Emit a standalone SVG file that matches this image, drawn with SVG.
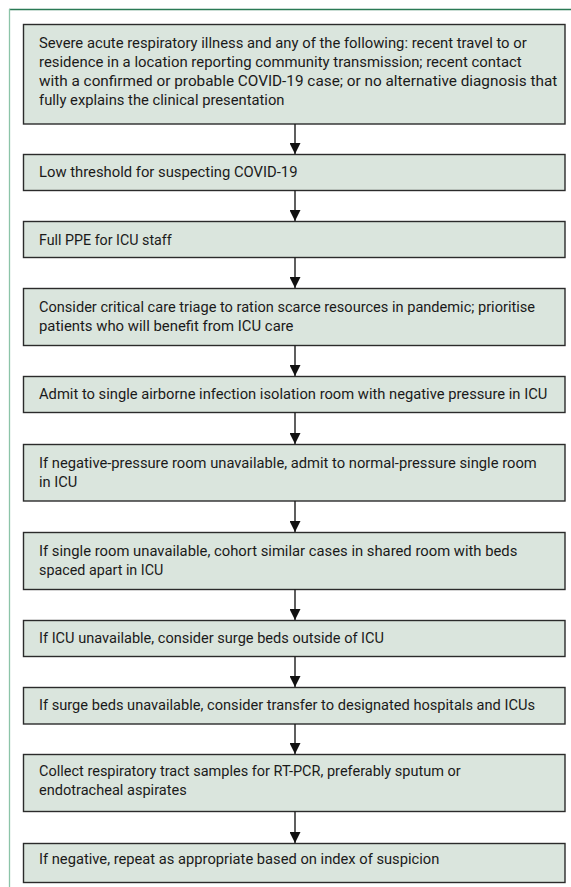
<svg xmlns="http://www.w3.org/2000/svg" width="571" height="887" viewBox="0 0 571 887">
<defs>
<style>
.box rect{fill:#dae5dd;stroke:#2b2b2b;stroke-width:1.4}
.box text{font-family:Roboto,Lato,"Liberation Sans",sans-serif;font-size:15px;fill:#1a1a1a}
.conn line{stroke:#1a1a1a;stroke-width:1.4}
</style>
<marker id="ah" viewBox="0 0 11 11" refX="11" refY="5.5" markerWidth="11" markerHeight="11" markerUnits="userSpaceOnUse" orient="auto">
<path d="M0,0 L11,5.5 L0,11 Z" fill="#111"/>
</marker>
</defs>
<rect x="0" y="0" width="571" height="887" fill="#ffffff"/>
<line x1="9" y1="9.5" x2="571" y2="9.5" stroke="#2a7a55" stroke-width="1.3"/>
<line x1="9.5" y1="9" x2="9.5" y2="887" stroke="#8cc4a8" stroke-width="1.3"/>

<g id="n1" class="box"><rect x="23.5" y="24.5" width="541.5" height="99.5"/>
<text x="39" y="48" textLength="487.7" lengthAdjust="spacingAndGlyphs">Severe acute respiratory illness and any of the following: recent travel to or</text>
<text x="39" y="67" textLength="482.7" lengthAdjust="spacingAndGlyphs">residence in a location reporting community transmission; recent contact</text>
<text x="39" y="86" textLength="518.3" lengthAdjust="spacingAndGlyphs">with a confirmed or probable COVID-19 case; or no alternative diagnosis that</text>
<text x="39" y="105" textLength="245.5" lengthAdjust="spacingAndGlyphs">fully explains the clinical presentation</text></g>

<g id="n2" class="box"><rect x="23.5" y="154.5" width="541.5" height="36"/>
<text x="39" y="176.5" textLength="258.5" lengthAdjust="spacingAndGlyphs">Low threshold for suspecting COVID-19</text></g>

<g id="n3" class="box"><rect x="23.5" y="221.5" width="541.5" height="36"/>
<text x="39" y="245" textLength="132.7" lengthAdjust="spacingAndGlyphs">Full PPE for ICU staff</text></g>

<g id="n4" class="box"><rect x="23.5" y="288.5" width="541.5" height="57"/>
<text x="39" y="311.5" textLength="496" lengthAdjust="spacingAndGlyphs">Consider critical care triage to ration scarce resources in pandemic; prioritise</text>
<text x="39" y="330.5" textLength="254.5" lengthAdjust="spacingAndGlyphs">patients who will benefit from ICU care</text></g>

<g id="n5" class="box"><rect x="23.5" y="376.5" width="541.5" height="36"/>
<text x="39" y="398.5" textLength="508.3" lengthAdjust="spacingAndGlyphs">Admit to single airborne infection isolation room with negative pressure in ICU</text></g>

<g id="n6" class="box"><rect x="23.5" y="444.5" width="541.5" height="56.5"/>
<text x="39" y="467.5" textLength="497.7" lengthAdjust="spacingAndGlyphs">If negative-pressure room unavailable, admit to normal-pressure single room</text>
<text x="39" y="486.5" textLength="38.3" lengthAdjust="spacingAndGlyphs">in ICU</text></g>

<g id="n7" class="box"><rect x="23.5" y="532.5" width="541.5" height="57"/>
<text x="39" y="555.5" textLength="478.3" lengthAdjust="spacingAndGlyphs">If single room unavailable, cohort similar cases in shared room with beds</text>
<text x="39" y="574.5" textLength="124.3" lengthAdjust="spacingAndGlyphs">spaced apart in ICU</text></g>

<g id="n8" class="box"><rect x="23.5" y="620.5" width="541.5" height="36"/>
<text x="39" y="643" textLength="345" lengthAdjust="spacingAndGlyphs">If ICU unavailable, consider surge beds outside of ICU</text></g>

<g id="n9" class="box"><rect x="23.5" y="687.5" width="541.5" height="36.5"/>
<text x="39" y="710" textLength="496" lengthAdjust="spacingAndGlyphs">If surge beds unavailable, consider transfer to designated hospitals and ICUs</text></g>

<g id="n10" class="box"><rect x="23.5" y="754.5" width="541.5" height="57"/>
<text x="39" y="775.5" textLength="421.7" lengthAdjust="spacingAndGlyphs">Collect respiratory tract samples for RT-PCR, preferably sputum or</text>
<text x="39" y="794.5" textLength="147.7" lengthAdjust="spacingAndGlyphs">endotracheal aspirates</text></g>

<g id="n11" class="box"><rect x="23.5" y="843.5" width="541.5" height="39"/>
<text x="39" y="863.5" textLength="400.3" lengthAdjust="spacingAndGlyphs">If negative, repeat as appropriate based on index of suspicion</text></g>

<g id="connectors" class="conn">
<line x1="295" y1="124" x2="295" y2="154" marker-end="url(#ah)"/>
<line x1="295" y1="190.5" x2="295" y2="221" marker-end="url(#ah)"/>
<line x1="295" y1="257.5" x2="295" y2="288" marker-end="url(#ah)"/>
<line x1="295" y1="345.5" x2="295" y2="376" marker-end="url(#ah)"/>
<line x1="295" y1="412.5" x2="295" y2="444" marker-end="url(#ah)"/>
<line x1="295" y1="501" x2="295" y2="532" marker-end="url(#ah)"/>
<line x1="295" y1="589.5" x2="295" y2="620" marker-end="url(#ah)"/>
<line x1="295" y1="656.5" x2="295" y2="687" marker-end="url(#ah)"/>
<line x1="295" y1="724" x2="295" y2="754" marker-end="url(#ah)"/>
<line x1="295" y1="811.5" x2="295" y2="843" marker-end="url(#ah)"/>
</g>
</svg>
